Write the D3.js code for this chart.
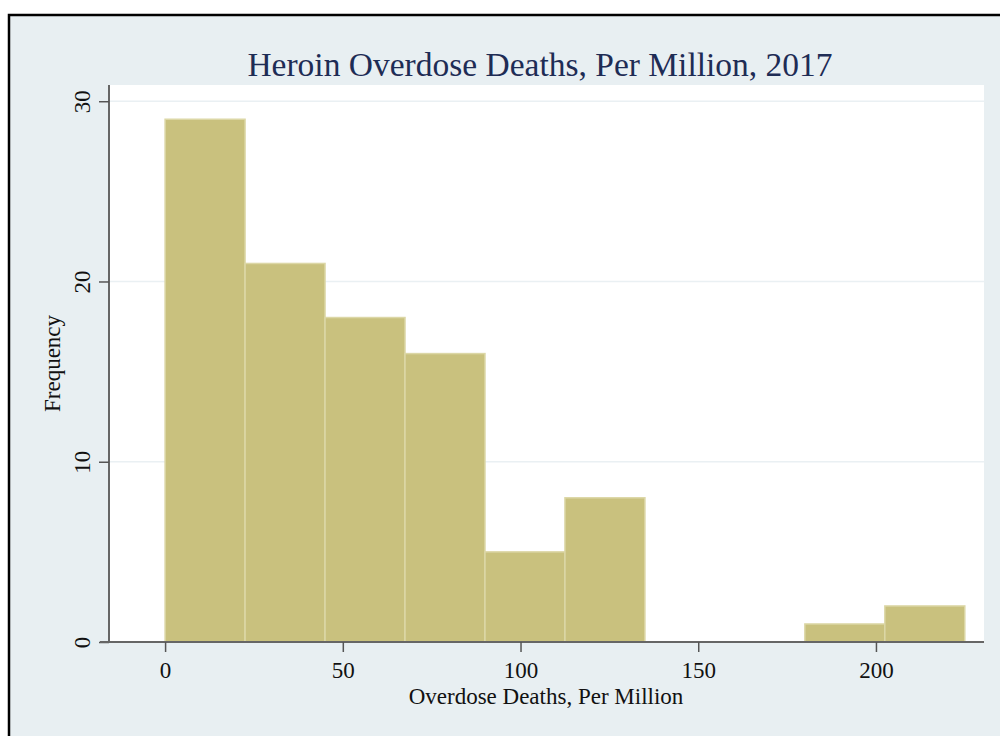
<!DOCTYPE html>
<html>
<head>
<meta charset="utf-8">
<script src="https://cdn.jsdelivr.net/npm/d3@7"></script>
<style>
  html, body { margin: 0; padding: 0; background: #ffffff; }
  svg { display: block; }
</style>
</head>
<body>
<svg id="chart" width="1000" height="736"></svg>
<script>
// Histogram bins (lower edges, width 22.5) and their frequencies
const binStarts = [0, 22.5, 45, 67.5, 90, 112.5, 135, 157.5, 180, 202.5];
const binWidth = 22.5;
const frequencies = [29, 21, 18, 16, 5, 8, 0, 0, 1, 2];
const xTicks = [0, 50, 100, 150, 200];
const yTicks = [0, 10, 20, 30];

const titleText = "Heroin Overdose Deaths, Per Million, 2017";
const xTitle = "Overdose Deaths, Per Million";
const yTitle = "Frequency";

const svg = d3.select("#chart");
const W = 1000, H = 736;
const plot = { left: 110, right: 984, top: 85, bottom: 642 };
const serif = "'Liberation Serif', 'Times New Roman', serif";

// Graph background with a framing rule on the top and left
svg.append("rect").attr("x", 9).attr("y", 15).attr("width", W - 9).attr("height", H - 15)
  .attr("fill", "#e8eff2");
svg.append("path").attr("d", `M9,${H} V15 H${W}`)
  .attr("fill", "none").attr("stroke", "#000").attr("stroke-width", 2.5);

// Plot region
svg.append("rect")
  .attr("x", plot.left).attr("y", plot.top)
  .attr("width", plot.right - plot.left).attr("height", plot.bottom - plot.top)
  .attr("fill", "#ffffff");

const x = d3.scaleLinear().domain([-15.5, 230.4]).range([plot.left, plot.right]);
const y = d3.scaleLinear().domain([0, 30.9]).range([plot.bottom, plot.top]);

// Horizontal grid lines
svg.append("g").selectAll("line")
  .data(yTicks.filter(d => d > 0))
  .join("line")
  .attr("x1", plot.left).attr("x2", plot.right)
  .attr("y1", d => y(d)).attr("y2", d => y(d))
  .attr("stroke", "#eaf0f3").attr("stroke-width", 1.5);

// Bars
const bins = binStarts.map((s, i) => ({ x0: s, x1: s + binWidth, n: frequencies[i] }));
svg.append("g").selectAll("rect")
  .data(bins.filter(d => d.n > 0))
  .join("rect")
  .attr("x", d => x(d.x0))
  .attr("y", d => y(d.n))
  .attr("width", d => x(d.x1) - x(d.x0))
  .attr("height", d => y(0) - y(d.n))
  .attr("fill", "#c9c17e")
  .attr("stroke", "#dcd7a6")
  .attr("stroke-width", 1.5);

// Y axis
const yAxis = svg.append("g")
  .attr("transform", `translate(${plot.left - 1},0)`)
  .call(d3.axisLeft(y).tickValues(yTicks).tickSize(10).tickPadding(6).tickSizeOuter(0));
yAxis.select(".domain").attr("d", `M0,${plot.top} V${plot.bottom}`)
  .attr("stroke", "#666").attr("stroke-width", 2);
yAxis.selectAll(".tick line").attr("stroke", "#555").attr("stroke-width", 1.5);
yAxis.selectAll(".tick text")
  .attr("font-family", serif).attr("font-size", 23).attr("fill", "#111")
  .attr("transform", "rotate(-90)")
  .attr("x", 0).attr("y", -19).attr("dy", 0)
  .attr("text-anchor", "middle");

// X axis
const xAxis = svg.append("g")
  .attr("transform", `translate(0,${plot.bottom})`)
  .call(d3.axisBottom(x).tickValues(xTicks).tickSize(10).tickPadding(10).tickSizeOuter(0));
xAxis.select(".domain").attr("d", `M${plot.left - 10},0 H${plot.right}`)
  .attr("stroke", "#666").attr("stroke-width", 2);
xAxis.selectAll(".tick line").attr("stroke", "#555").attr("stroke-width", 1.5);
xAxis.selectAll(".tick text")
  .attr("font-family", serif).attr("font-size", 23).attr("fill", "#111");

// Titles
svg.append("text")
  .attr("x", (plot.left + plot.right) / 2 - 7).attr("y", 76)
  .attr("text-anchor", "middle")
  .attr("font-family", serif).attr("font-size", 33.5).attr("fill", "#1e2c55")
  .text(titleText);

svg.append("text")
  .attr("x", (plot.left + plot.right) / 2 - 1).attr("y", 704)
  .attr("text-anchor", "middle")
  .attr("font-family", serif).attr("font-size", 23).attr("fill", "#111")
  .text(xTitle);

svg.append("text")
  .attr("transform", `translate(60,${(plot.top + plot.bottom) / 2}) rotate(-90)`)
  .attr("text-anchor", "middle")
  .attr("font-family", serif).attr("font-size", 23).attr("fill", "#111")
  .text(yTitle);
</script>
</body>
</html>
